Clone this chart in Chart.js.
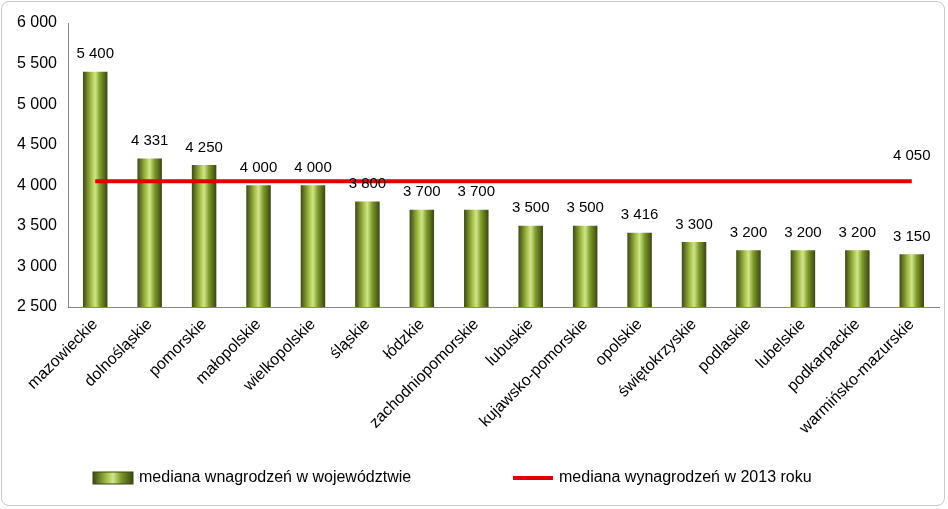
<!DOCTYPE html>
<html><head><meta charset="utf-8">
<script src="https://cdn.jsdelivr.net/npm/chart.js@4/dist/chart.umd.min.js"></script>
<style>
html,body{margin:0;padding:0;background:#fff;}
#wrap{position:absolute;left:1px;top:1px;width:944px;height:505px;border:1px solid #c8c8c8;border-radius:8px;box-sizing:border-box;}
canvas{position:absolute;left:0;top:0;}
</style></head><body>
<div id="wrap"></div>
<canvas id="c" width="948" height="509"></canvas>
<script>
const categories=["mazowieckie","dolnośląskie","pomorskie","małopolskie","wielkopolskie","śląskie","łódzkie","zachodniopomorskie","lubuskie","kujawsko-pomorskie","opolskie","świętokrzyskie","podlaskie","lubelskie","podkarpackie","warmińsko-mazurskie"];
const wojValues=[5400,4331,4250,4000,4000,3800,3700,3700,3500,3500,3416,3300,3200,3200,3200,3150];
const medianValues=[4050,4050,4050,4050,4050,4050,4050,4050,4050,4050,4050,4050,4050,4050,4050,4050];
const seriesNames=["mediana wnagrodzeń w województwie","mediana wynagrodzeń w 2013 roku"];
const FONT="'Liberation Sans', Arial, sans-serif";
const fmt=v=>String(v).replace(/\B(?=(\d{3})+(?!\d))/g,' ');
function grad(ctx,x0,x1){const g=ctx.createLinearGradient(x0,0,x1,0);
g.addColorStop(0,'#3d4a12');g.addColorStop(0.35,'#a8c24a');g.addColorStop(0.5,'#d2e58a');g.addColorStop(0.7,'#7e9a2a');g.addColorStop(1,'#3a4610');return g;}
const labelsPlugin={id:'lbl',afterDatasetsDraw(chart){
 const ctx=chart.ctx;ctx.save();ctx.font='15px '+FONT;ctx.fillStyle='#000';ctx.textAlign='center';ctx.textBaseline='bottom';
 const m=chart.getDatasetMeta(1);
 m.data.forEach((b,i)=>ctx.fillText(fmt(wojValues[i]),b.x,b.y-10));
 const l=chart.getDatasetMeta(0);const p=l.data[l.data.length-1];
 ctx.fillText(fmt(medianValues[medianValues.length-1]),p.x,p.y-18);
 const y=478;ctx.textAlign='left';ctx.textBaseline='middle';ctx.font='16px '+FONT;
 ctx.fillStyle=grad(ctx,93,133);ctx.fillRect(93,y-6,40,12);ctx.strokeStyle='#3a4610';ctx.lineWidth=1;ctx.strokeRect(93,y-6,40,12);
 ctx.fillStyle='#000';ctx.fillText(seriesNames[0],139,y);
 ctx.strokeStyle='#e00000';ctx.lineWidth=4;ctx.beginPath();ctx.moveTo(513,y);ctx.lineTo(553,y);ctx.stroke();
 ctx.fillText(seriesNames[1],559,y);
 ctx.restore();}};
new Chart(document.getElementById('c'),{
 data:{labels:categories,datasets:[
  {type:'line',label:seriesNames[1],data:medianValues,borderColor:'#e00000',borderWidth:4,pointRadius:0,order:0},
  {type:'bar',label:seriesNames[0],data:wojValues,order:1,barPercentage:0.45,categoryPercentage:1,
   borderColor:'#3a4610',borderWidth:0,
   backgroundColor:c=>{const sx=c.chart.scales&&c.chart.scales.x;if(!sx)return '#8aa535';
     const x=sx.getPixelForValue(c.dataIndex);const w=(sx.width/categories.length)*0.45;
     if(!isFinite(x)||!isFinite(w)||w<=0)return '#8aa535';return grad(c.chart.ctx,x-w/2,x+w/2);}}
 ]},
 options:{responsive:false,animation:false,
  layout:{padding:{left:6,right:9,top:23,bottom:0}},
  plugins:{legend:{display:false},tooltip:{enabled:false}},
  scales:{
   y:{min:2500,max:6000,ticks:{stepSize:500,callback:v=>fmt(v),color:'#000',font:{size:16,family:FONT},padding:6},
      grid:{display:false,drawTicks:true,tickLength:5},border:{display:true,color:'#888'},
      afterFit:s=>{s.width=62;}},
   x:{ticks:{color:'#000',font:{size:16,family:FONT},maxRotation:45,minRotation:45,autoSkip:false},
      grid:{display:false,tickLength:5},border:{display:true,color:'#888'},
      afterFit:s=>{s.height=202;}}
  }},
 plugins:[labelsPlugin]
});
</script></body></html>
